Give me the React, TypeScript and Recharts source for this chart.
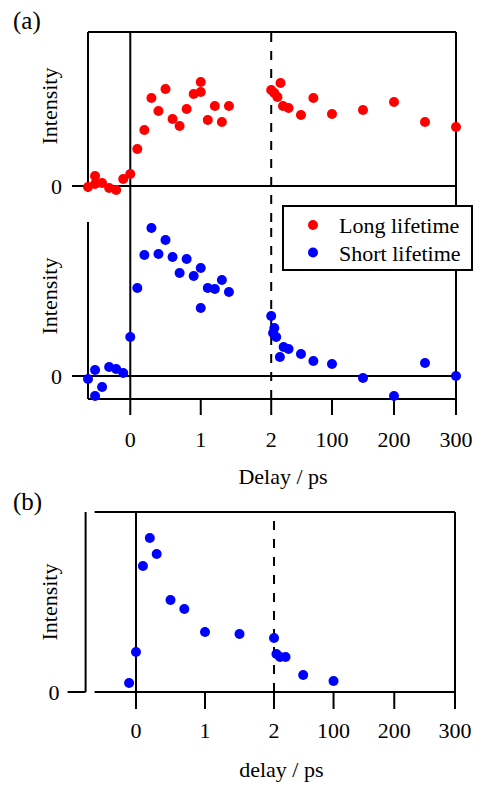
import React from "react";
import { ScatterChart, Scatter, XAxis, YAxis, ReferenceLine, Legend } from "recharts";

const FONT = '"Liberation Serif", "Times New Roman", serif';
const FS = 22;
const RED = "#ff0000";
const BLUE = "#0000ff";
const INK = "#000";

// delay axis is linear up to 2 ps, then squeezed out to 300 ps
const BREAK = 2;
const SQUEEZE = 0.0088;
const toAxis = (t: number) => (t <= BREAK ? t : BREAK + (t - BREAK) * SQUEEZE);

const tickDelays = [0, 1, 2, 100, 200, 300];
const tickLabels = ["0", "1", "2", "100", "200", "300"];

// (a) long lifetime component
const longDelay = [
  -0.6, -0.5, -0.5, -0.4, -0.3, -0.2, -0.1, 0,
  0.1, 0.2, 0.3, 0.4, 0.5, 0.6, 0.7, 0.8, 0.9, 1.0, 1.0, 1.1, 1.2, 1.3, 1.4,
  2, 7, 12, 17, 21, 30, 50, 70, 100, 150, 200, 250, 300,
];
const longIntensity = [
  -0.01, 0.02, 0.1, 0.03, -0.02, -0.04, 0.07, 0.12,
  0.37, 0.56, 0.88, 0.75, 0.97, 0.67, 0.6, 0.77, 0.92, 1.04, 0.94, 0.66, 0.8, 0.64, 0.8,
  0.96, 0.93, 0.89, 1.03, 0.8, 0.78, 0.71, 0.88, 0.72, 0.76, 0.84, 0.64, 0.59,
];

// (a) short lifetime component
const shortDelay = [
  -0.6, -0.5, -0.5, -0.4, -0.3, -0.2, -0.1, 0,
  0.1, 0.2, 0.3, 0.4, 0.5, 0.6, 0.7, 0.8, 0.9, 1.0, 1.0, 1.1, 1.2, 1.3, 1.4,
  2, 5, 7, 10, 16, 22, 30, 50, 70, 100, 150, 200, 250, 300,
];
const shortIntensity = [
  -0.03, 0.06, -0.2, -0.11, 0.09, 0.07, 0.03, 0.39,
  0.88, 1.21, 1.48, 1.22, 1.36, 1.19, 1.03, 1.17, 1.0, 1.08, 0.68, 0.88, 0.87, 0.96, 0.84,
  0.6, 0.43, 0.48, 0.39, 0.19, 0.29, 0.27, 0.22, 0.15, 0.12, -0.02, -0.2, 0.13, 0.0,
];

// (b)
const bDelay = [-0.1, 0, 0.1, 0.2, 0.3, 0.5, 0.7, 1.0, 1.5, 2, 6, 12, 21, 50, 100];
const bIntensity = [0.09, 0.4, 1.26, 1.54, 1.38, 0.92, 0.83, 0.6, 0.58, 0.54, 0.38, 0.35, 0.35, 0.17, 0.11];

const legendItems = [
  { name: "Long lifetime", color: RED },
  { name: "Short lifetime", color: BLUE },
];

const X_MAX = toAxis(300);
const axisTicks = tickDelays.map(toAxis);
const fmtTick = (v: number) => {
  const i = axisTicks.findIndex((a) => Math.abs(a - v) < 1e-6);
  return i >= 0 ? tickLabels[i] : "";
};
const pts = (delays: number[], values: number[]) => delays.map((t, i) => ({ x: toAxis(t), y: values[i] }));

const longPts = pts(longDelay, longIntensity);
const shortPts = pts(shortDelay, shortIntensity);
const bPts = pts(bDelay, bIntensity);

const dot = (color: string) => (p: any) => <circle cx={p.cx} cy={p.cy} r={5} fill={color} />;
const line = { stroke: INK, strokeWidth: 2 };
const tickText = { fill: INK, fontSize: FS, fontFamily: FONT };
const yLabel = (dy: number) => ({
  value: "Intensity",
  angle: -90,
  position: "center" as const,
  dy,
  fill: INK,
  fontSize: FS,
  fontFamily: FONT,
});

function LegendBox() {
  return (
    <div style={{ width: 187, height: 62, border: "2px solid #000", background: "#fff" }}>
      <svg width={187} height={62}>
        {legendItems.map((it, i) => (
          <g key={it.name}>
            <circle cx={29} cy={18 + i * 27.5} r={5} fill={it.color} />
            <text x={55} y={26 + i * 27.5} fontFamily={FONT} fontSize={FS} fill={INK}>
              {it.name}
            </text>
          </g>
        ))}
      </svg>
    </div>
  );
}

export default function App() {
  return (
    <div style={{ position: "absolute", left: 0, top: 0, width: 481, height: 785, background: "#fff" }}>
      <svg width={481} height={785} style={{ position: "absolute", left: 0, top: 0 }}>
        <text x={13} y={29} fontFamily={FONT} fontSize={25} fill={INK}>(a)</text>
        <text x={13} y={510} fontFamily={FONT} fontSize={25} fill={INK}>(b)</text>
      </svg>

      {/* (a) long lifetime */}
      <div style={{ position: "absolute", left: 0, top: 0 }}>
        <ScatterChart width={481} height={222} margin={{ top: 32, right: 25, bottom: 0, left: 11.4 }}>
          <XAxis type="number" dataKey="x" domain={[-0.6, X_MAX]} hide />
          <YAxis
            type="number"
            dataKey="y"
            domain={[-0.36, 1.54]}
            ticks={[0]}
            width={76.6}
            axisLine={false}
            tickSize={16}
            tickMargin={10}
            tickLine={line}
            tick={tickText}
            label={yLabel(-21)}
          />
          <ReferenceLine segment={[{ x: -0.6, y: 1.54 }, { x: -0.6, y: -0.06 }]} {...line} ifOverflow="visible" />
          <ReferenceLine y={1.54} {...line} ifOverflow="visible" />
          <ReferenceLine y={0} {...line} ifOverflow="visible" />
          <ReferenceLine x={0} {...line} ifOverflow="visible" />
          <ReferenceLine x={2} {...line} strokeDasharray="9 9" ifOverflow="visible" />
          <ReferenceLine x={X_MAX} {...line} ifOverflow="visible" />
          <Scatter data={longPts} shape={dot(RED)} isAnimationActive={false} />
        </ScatterChart>
      </div>

      {/* (a) short lifetime */}
      <div style={{ position: "absolute", left: 0, top: 222 }}>
        <ScatterChart width={481} height={275} margin={{ top: 0, right: 25, bottom: 38, left: 11.4 }}>
          <XAxis
            type="number"
            dataKey="x"
            domain={[-0.6, X_MAX]}
            ticks={axisTicks}
            tickFormatter={fmtTick}
            height={60}
            axisLine={line}
            tickLine={line}
            tickSize={16}
            tickMargin={16}
            tick={tickText}
            label={{ value: "Delay / ps", position: "bottom", offset: 9, dx: 11, fill: INK, fontSize: FS, fontFamily: FONT }}
          />
          <YAxis
            type="number"
            dataKey="y"
            domain={[-0.23, 1.54]}
            ticks={[0]}
            width={76.6}
            axisLine={line}
            tickSize={16}
            tickMargin={10}
            tickLine={line}
            tick={tickText}
            label={yLabel(-14.5)}
          />
          <ReferenceLine y={0} {...line} ifOverflow="visible" />
          <ReferenceLine x={0} {...line} ifOverflow="visible" />
          <ReferenceLine x={2} {...line} strokeDasharray="9 9" ifOverflow="visible" />
          <ReferenceLine x={X_MAX} {...line} ifOverflow="visible" />
          <Scatter data={shortPts} shape={dot(BLUE)} isAnimationActive={false} />
          <Legend
            layout="vertical"
            align="center"
            verticalAlign="middle"
            content={() => <LegendBox />}
            wrapperStyle={{ top: -17, left: 282, width: 191, height: 66 }}
          />
        </ScatterChart>
      </div>

      {/* (b) */}
      <div style={{ position: "absolute", left: 0, top: 500 }}>
        <ScatterChart width={481} height={285} margin={{ top: 12, right: 26, bottom: 33, left: 13.8 }}>
          <XAxis
            type="number"
            dataKey="x"
            domain={[-0.7304, X_MAX]}
            ticks={axisTicks}
            tickFormatter={fmtTick}
            height={60}
            axisLine={false}
            tickLine={line}
            tickSize={17}
            tickMargin={13}
            tick={tickText}
            label={{ value: "delay / ps", position: "bottom", offset: 9, dx: 11, fill: INK, fontSize: FS, fontFamily: FONT }}
          />
          <YAxis
            type="number"
            dataKey="y"
            domain={[0, 1.8]}
            ticks={[0]}
            width={71.8}
            axisLine={line}
            tickSize={18}
            tickMargin={8}
            tickLine={line}
            tick={tickText}
            label={yLabel(0)}
          />
          <ReferenceLine segment={[{ x: -0.6, y: 1.8 }, { x: X_MAX, y: 1.8 }]} {...line} ifOverflow="visible" />
          <ReferenceLine segment={[{ x: -0.6, y: 0 }, { x: X_MAX, y: 0 }]} {...line} ifOverflow="visible" />
          <ReferenceLine x={0} {...line} ifOverflow="visible" />
          <ReferenceLine x={2} {...line} strokeDasharray="9 9" ifOverflow="visible" />
          <ReferenceLine x={X_MAX} {...line} ifOverflow="visible" />
          <Scatter data={bPts} shape={dot(BLUE)} isAnimationActive={false} />
        </ScatterChart>
      </div>
    </div>
  );
}
